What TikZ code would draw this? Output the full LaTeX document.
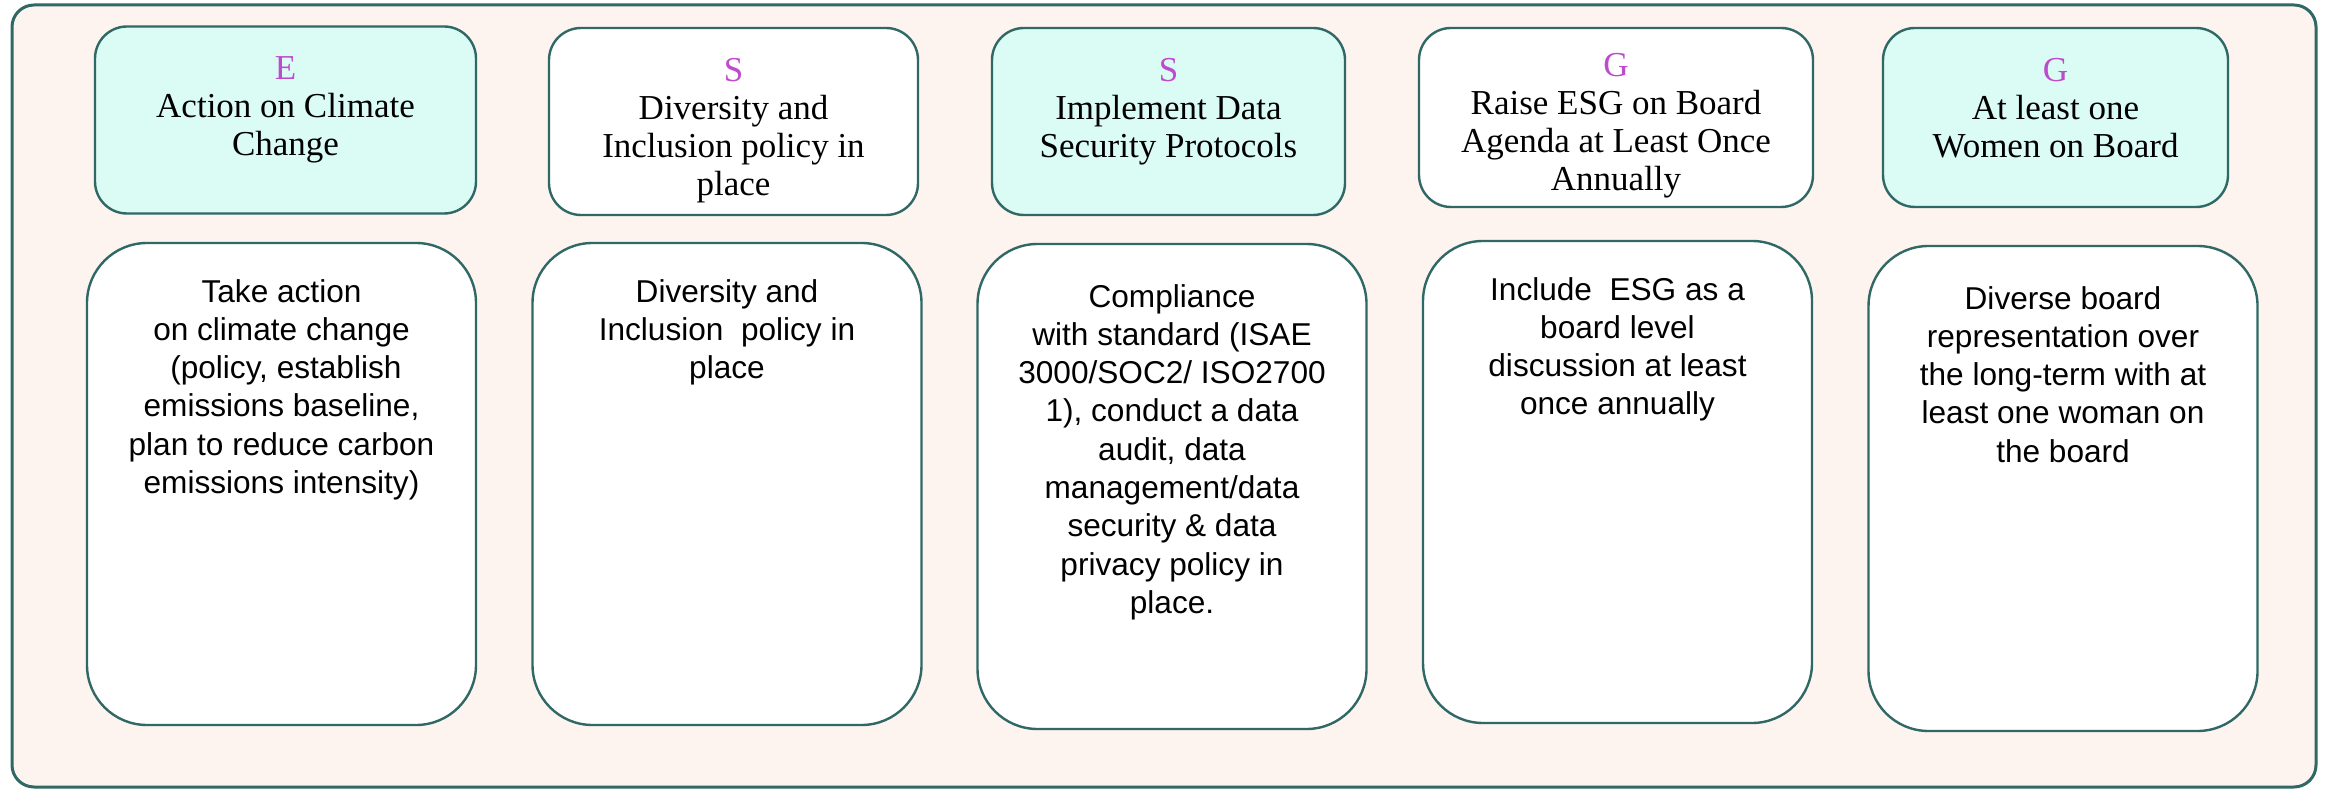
\documentclass[tikz,border=0pt]{standalone}
\usepackage{fontspec}
\setmainfont{Liberation Serif}
\newfontfamily\bodyfont{Liberation Sans}
\usetikzlibrary{positioning}

\definecolor{frameteal}{RGB}{47,104,100}
\definecolor{peach}{RGB}{253,243,239}
\definecolor{mint}{RGB}{219,251,245}
\definecolor{pillar}{RGB}{190,75,205}

\begin{document}
\begin{tikzpicture}[x=0.5pt,y=-0.5pt,
    head/.style={draw=frameteal,line width=1.2pt,rounded corners=16pt,minimum height=93.5pt},
    shorthead/.style={head,minimum height=89.5pt},
    card/.style={draw=frameteal,line width=1.2pt,rounded corners=30pt,fill=white,minimum width=194.5pt,minimum height=241pt},
    headtext/.style={align=center,inner sep=0pt,font=\fontsize{17.5}{19}\selectfont},
    cardtext/.style={align=center,inner sep=0pt,font=\bodyfont\fontsize{15.8}{19.15}\selectfont}]
  \useasboundingbox (0,0) rectangle (2328,790);
  \draw[frameteal,line width=1.5pt,fill=peach,rounded corners=11pt] (12,5) rectangle (2316,787);

  \node[head,fill=mint,minimum width=190.5pt] (h1) at (285.5,120) {};
  \node[head,fill=white,minimum width=184.5pt] (h2) at (733.5,121.5) {};
  \node[head,fill=mint,minimum width=176.5pt] (h3) at (1168.5,121.5) {};
  \node[shorthead,fill=white,minimum width=197pt] (h4) at (1616,117.5) {};
  \node[shorthead,fill=mint,minimum width=172.5pt] (h5) at (2055.5,117.5) {};

  \node[headtext,below=15.5pt of h1.north] (t1) {\textcolor{pillar}{E}\\Action on Climate\\Change};
  \node[headtext,below=15.5pt of h2.north] (t2) {\textcolor{pillar}{S}\\Diversity and\\Inclusion policy in\\place};
  \node[headtext,below=15.5pt of h3.north] (t3) {\textcolor{pillar}{S}\\Implement Data\\Security Protocols};
  \node[headtext,below=13pt of h4.north] (t4) {\textcolor{pillar}{G}\\Raise ESG on Board\\Agenda at Least Once\\Annually};
  \node[headtext,below=15.5pt of h5.north] (t5) {\textcolor{pillar}{G}\\At least one\\Women on Board};

  \node[card] (b1) at (281.5,484) {};
  \node[card] (b2) at (727,484) {};
  \node[card,minimum height=242.5pt] (b3) at (1172,486.5) {};
  \node[card] (b4) at (1617.5,482) {};
  \node[card,minimum height=242.5pt] (b5) at (2063,488.5) {};

  \node[cardtext,below=18.5pt of b1.north] (d1) {Take action\\on climate change\\\ (policy, establish\\emissions baseline,\\plan to reduce carbon\\emissions intensity)};
  \node[cardtext,below=18.5pt of b2.north] (d2) {Diversity and\\Inclusion\ \ policy in\\place};
  \node[cardtext,below=20.5pt of b3.north] (d3) {Compliance\\with standard (ISAE\\3000/SOC2/ ISO2700\\1), conduct a data\\audit, data\\management/data\\security \& data\\privacy policy in\\place.};
  \node[cardtext,below=18.5pt of b4.north] (d4) {Include\ \ ESG as a\\board level\\discussion at least\\once annually};
  \node[cardtext,below=20.5pt of b5.north] (d5) {Diverse board\\representation over\\the long-term with at\\least one woman on\\the board};
\end{tikzpicture}
\end{document}
